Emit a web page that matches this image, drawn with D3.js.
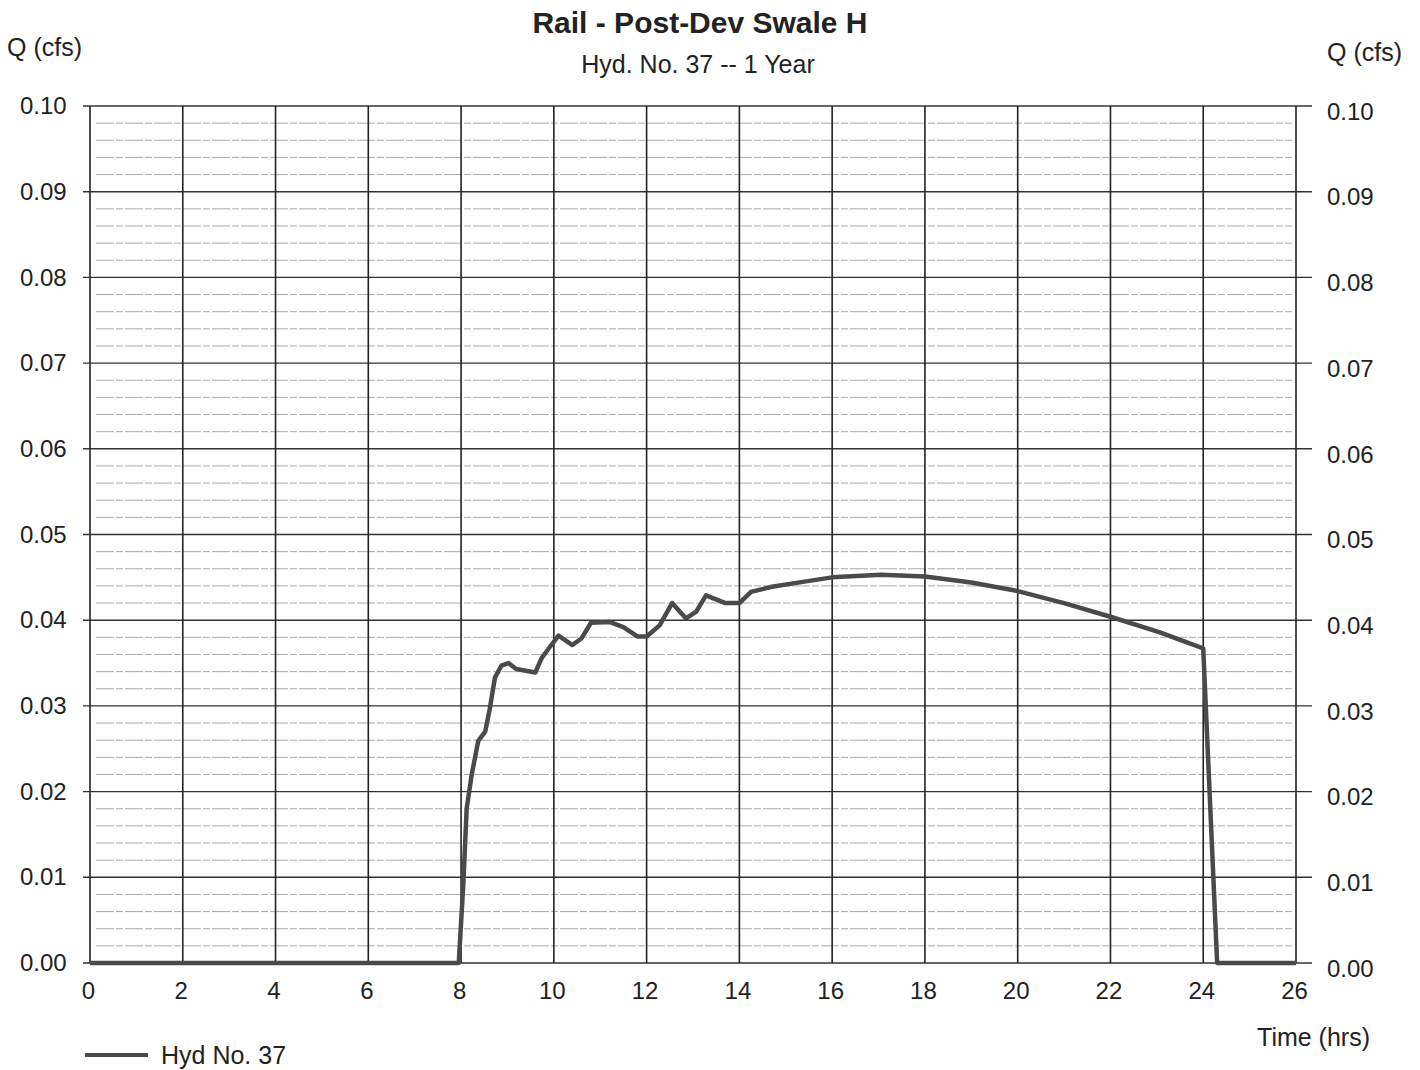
<!DOCTYPE html>
<html>
<head>
<meta charset="utf-8">
<script src="https://cdn.jsdelivr.net/npm/d3@7"></script>
<style>
  body { margin: 0; background: #fff; }
  text { font-family: "Liberation Sans", Arial, sans-serif; fill: #222; }
</style>
</head>
<body>
<div id="chart"></div>
<script>
// hydrograph
var timeHrs = [0, 2, 4, 6, 7.95, 8.05, 8.12, 8.23, 8.37, 8.52, 8.62, 8.73, 8.87, 9.02, 9.19, 9.6, 9.74,
  9.89, 10.1, 10.4, 10.6, 10.8, 11.2, 11.5, 11.8, 12.0, 12.28, 12.55, 12.85, 13.07, 13.28, 13.7, 14.0,
  14.25, 14.7, 15.4, 16.0, 17.05, 18.0, 19.0, 20.0, 21.0, 22.0, 23.05, 24.0, 24.3, 25, 26];
var flowCfs = [0, 0, 0, 0, 0, 0.0094, 0.018, 0.022, 0.0259, 0.027, 0.0297, 0.0333, 0.0347, 0.035, 0.0343, 0.0339, 0.0356,
  0.0367, 0.0382, 0.0371, 0.0379, 0.0397, 0.0398, 0.0392, 0.0381, 0.0381, 0.0394, 0.042, 0.0402, 0.041, 0.0429, 0.042, 0.042,
  0.0433, 0.0439, 0.0445, 0.0450, 0.0453, 0.0451, 0.0444, 0.0434, 0.042, 0.0404, 0.0386, 0.0367, 0, 0, 0];

var xTicks = [0, 2, 4, 6, 8, 10, 12, 14, 16, 18, 20, 22, 24, 26];
var yTicks = [0, 0.01, 0.02, 0.03, 0.04, 0.05, 0.06, 0.07, 0.08, 0.09, 0.10];
var yMinor = d3.range(0, 0.1, 0.002);

var width = 1420, height = 1070;
var padL = 90, padR = 1296, padT = 106, padB = 963;

var svg = d3.select("#chart").append("svg")
    .attr("width", width)
    .attr("height", height);

var xScale = d3.scaleLinear().domain([0, 26]).range([padL, padR]);
var yScale = d3.scaleLinear().domain([0, 0.1]).range([padB, padT]);

// minor horizontal lines
svg.append("g").selectAll("line")
    .data(yMinor.filter(function(d) { return Math.round(d * 1000) % 10 != 0; }))
    .enter().append("line")
    .attr("x1", padL + 6).attr("x2", padR - 4)
    .attr("y1", function(d) { return yScale(d); })
    .attr("y2", function(d) { return yScale(d); })
    .attr("stroke", "#aaa")
    .attr("stroke-width", 1)
    .attr("stroke-dasharray", "18,2,7,2");

// major horizontal grid
svg.append("g").selectAll("line")
    .data(yTicks)
    .enter().append("line")
    .attr("x1", padL - 7).attr("x2", padR + 16)
    .attr("y1", function(d) { return yScale(d); })
    .attr("y2", function(d) { return yScale(d); })
    .attr("stroke", "#333")
    .attr("stroke-width", 1.4);

// vertical grid
svg.append("g").selectAll("line")
    .data(xTicks)
    .enter().append("line")
    .attr("x1", function(d) { return xScale(d); })
    .attr("x2", function(d) { return xScale(d); })
    .attr("y1", padT).attr("y2", padB)
    .attr("stroke", "#222")
    .attr("stroke-width", 1.6);

// axes labels via d3 axes, domain/ticks hidden
var fmt = d3.format(".2f");
var yl = svg.append("g")
    .attr("transform", "translate(" + (padL - 18) + ",0)")
    .call(d3.axisLeft(yScale).tickValues(yTicks).tickFormat(fmt).tickSize(0));
var yr = svg.append("g")
    .attr("transform", "translate(" + (padR + 28) + ",0)")
    .call(d3.axisRight(yScale).tickValues(yTicks).tickFormat(fmt).tickSize(0));
var xb = svg.append("g")
    .attr("transform", "translate(0," + (padB + 16) + ")")
    .call(d3.axisBottom(xScale).tickValues(xTicks).tickFormat(d3.format("d")).tickSize(0));
[yl, yr, xb].forEach(function(g) {
  g.select(".domain").remove();
  g.selectAll("text").style("font-size", "24px").attr("fill", "#222")
    .style("font-family", "'Liberation Sans', Arial, sans-serif");
});
yl.selectAll("text").attr("dx", "-0.1em");
yr.selectAll("text").attr("dy", "0.55em");
xb.selectAll("text").attr("x", -2);

// hydrograph line
var line = d3.line()
    .x(function(d, i) { return xScale(timeHrs[i]); })
    .y(function(d) { return yScale(d); });

svg.append("path")
    .attr("d", line(flowCfs))
    .attr("fill", "none")
    .attr("stroke", "#4a4a4a")
    .attr("stroke-width", 4.5)
    .attr("stroke-linejoin", "round");

// titles
svg.append("text").attr("x", 700).attr("y", 33)
    .attr("text-anchor", "middle")
    .style("font-size", "30px").style("font-weight", "bold")
    .text("Rail - Post-Dev Swale H");
svg.append("text").attr("x", 698).attr("y", 73)
    .attr("text-anchor", "middle")
    .style("font-size", "25px")
    .text("Hyd. No. 37 -- 1 Year");
svg.append("text").attr("x", 7).attr("y", 56)
    .style("font-size", "25px").text("Q (cfs)");
svg.append("text").attr("x", 1327).attr("y", 61)
    .style("font-size", "25px").text("Q (cfs)");
svg.append("text").attr("x", 1370).attr("y", 1046)
    .attr("text-anchor", "end")
    .style("font-size", "25px").text("Time (hrs)");

// legend
svg.append("line")
    .attr("x1", 85).attr("x2", 148).attr("y1", 1055).attr("y2", 1055)
    .attr("stroke", "#4a4a4a").attr("stroke-width", 4);
svg.append("text").attr("x", 161).attr("y", 1064)
    .style("font-size", "25px").text("Hyd No. 37");
</script>
</body>
</html>
